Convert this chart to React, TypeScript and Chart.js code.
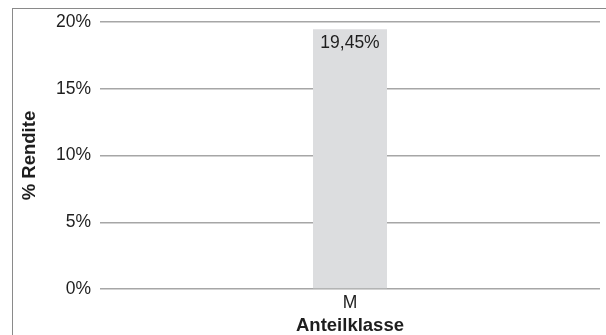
import React, { useEffect, useRef } from "react";
import { Chart, registerables } from "chart.js";

Chart.register(...registerables);

const categories = ["M"];
const values = [19.45];
const yTicks = [0, 5, 10, 15, 20];
const yTitle = "% Rendite";
const xTitle = "Anteilklasse";

const FONT = "'Liberation Sans', Arial, Helvetica, sans-serif";

const valueLabelPlugin = {
  id: "valueLabels",
  afterDatasetsDraw(chart: any) {
    const ctx = chart.ctx;
    const meta = chart.getDatasetMeta(0);
    ctx.save();
    ctx.font = `17.5px ${FONT}`;
    ctx.fillStyle = "#1e1e1e";
    ctx.textAlign = "center";
    ctx.textBaseline = "middle";
    meta.data.forEach((bar: any, i: number) => {
      const v = values[i];
      const txt = v.toFixed(2).replace(".", ",") + "%";
      ctx.fillText(txt, bar.x, bar.y + 14);
    });
    ctx.restore();
  },
};

export default function App() {
  const ref = useRef<HTMLCanvasElement>(null);
  useEffect(() => {
    document.body.style.margin = "0";
    const chart = new Chart(ref.current!, {
      type: "bar",
      data: {
        labels: categories,
        datasets: [
          {
            data: values,
            backgroundColor: "#dcdddf",
            borderWidth: 0,
            barPercentage: 0.148,
            categoryPercentage: 1,
          },
        ],
      },
      options: {
        animation: false,
        responsive: false,
        maintainAspectRatio: false,
        layout: { padding: { top: 22, right: 6, left: 0, bottom: 0 } },
        plugins: { legend: { display: false }, tooltip: { enabled: false } },
        scales: {
          x: {
            grid: { display: false, drawTicks: false },
            border: { display: false },
            ticks: {
              color: "#1e1e1e",
              font: { family: FONT, size: 17.5 },
              padding: 4,
            },
            title: {
              display: true,
              text: xTitle,
              color: "#1e1e1e",
              font: { family: FONT, size: 18.5, weight: "bold" },
              padding: { top: 0, bottom: -2 },
            },
            afterFit(scale: any) {
              scale.height = 46;
            },
          },
          y: {
            min: 0,
            max: 20,
            afterBuildTicks(scale: any) {
              scale.ticks = yTicks.map((v) => ({ value: v }));
            },
            grid: {
              color: "#a6a6a6",
              lineWidth: 1.5,
              drawTicks: false,
            },
            border: { display: false },
            ticks: {
              color: "#1e1e1e",
              font: { family: FONT, size: 17.5 },
              padding: 9,
              callback: (v: any) => v + "%",
            },
            title: {
              display: true,
              text: yTitle,
              color: "#1e1e1e",
              font: { family: FONT, size: 18.5, weight: "bold" },
              padding: { top: 19, bottom: 0 },
            },
            afterFit(scale: any) {
              scale.width = 100;
            },
          },
        },
      },
      plugins: [valueLabelPlugin],
    });
    return () => chart.destroy();
  }, []);

  return (
    <div
      style={{
        position: "fixed",
        left: 0,
        top: 0,
        width: 606,
        height: 335,
        overflow: "hidden",
        background: "#fff",
      }}
    >
      <div
        style={{
          position: "absolute",
          left: 12,
          top: 8,
          width: 700,
          height: 400,
          border: "1px solid #8a8a8a",
          boxSizing: "border-box",
        }}
      />
      <canvas
        ref={ref}
        width={606}
        height={335}
        style={{ position: "absolute", left: 0, top: 0, width: 606, height: 335 }}
      />
    </div>
  );
}
